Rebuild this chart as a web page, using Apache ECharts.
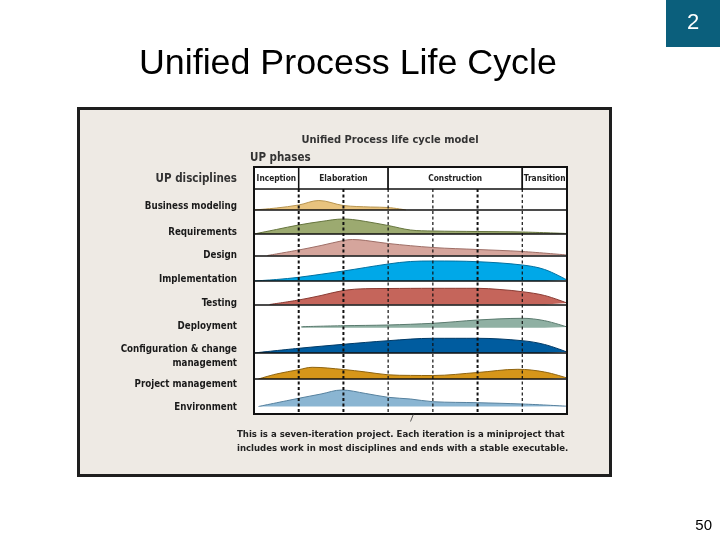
<!DOCTYPE html>
<html>
<head>
<meta charset="utf-8">
<script src="https://cdn.jsdelivr.net/npm/echarts@6/dist/echarts.min.js"></script>
<style>
  html, body { margin: 0; padding: 0; background: #fff; }
  #chart { width: 720px; height: 540px; }
</style>
</head>
<body>
<div id="chart"></div>
<script>
// phases across the 7 iterations
var phases = ['Inception', 'Elaboration', 'Construction', 'Transition'];
var phaseStart = [0, 1, 3, 6];
var phaseEnd = [1, 3, 6, 7];
var iterationEnds = [1, 2, 3, 4, 5, 6];
var heavyEnds = [1, 2, 5];

var disciplines = ['Business modeling', 'Requirements', 'Design', 'Implementation', 'Testing',
  'Deployment', 'Configuration & change\nmanagement', 'Project management', 'Environment'];

// effort curves: [iteration, effort]
var businessModeling = [[0, 0], [0.5, 2], [1, 5], [1.45, 9.5], [2, 4.5], [2.6, 3], [3, 2.5], [3.4, 0]];
var requirements = [[0, 0], [0.5, 4.5], [1, 9], [1.5, 12.5], [2, 15], [2.2, 14.5], [2.5, 12.5], [3, 8.5], [3.5, 4], [4, 3], [5, 2.5], [6, 2], [7, 0.5]];
var design = [[0.3, 0], [1, 5.5], [1.5, 10], [2, 15], [2.2, 16], [2.5, 15], [3, 12], [4, 8], [5, 6], [6, 4], [7, 0.5]];
var implementation = [[0, 0], [0.5, 1.5], [1, 3.7], [2, 10], [3, 17], [3.5, 19.5], [4, 20], [5, 19.3], [6, 16], [6.5, 11.5], [7, 1]];
var testing = [[0.35, 0], [1, 4.5], [1.5, 9], [2, 14], [2.5, 15.8], [3, 16], [4, 16.2], [5, 16.2], [5.5, 15], [6, 12.8], [6.5, 9], [7, 1.5]];
var deployment = [[1.06, 1], [2, 2], [3, 2.7], [4, 4.4], [4.5, 6], [5, 7.7], [6, 9.4], [6.5, 7], [7, 0.7]];
var configuration = [[0, 0], [1, 4.7], [2, 8.7], [3, 12.3], [4, 14.7], [5, 14.7], [6, 12.3], [6.5, 8.5], [7, 1]];
var projectManagement = [[0.1, 0], [0.5, 5], [1, 9.3], [1.3, 11.7], [2, 9.5], [2.5, 7], [3, 4.2], [3.5, 3.6], [4, 3.5], [5, 6.5], [5.9, 9.7], [6.5, 7], [7, 1]];
var environment = [[0.1, 0], [1, 8.2], [1.5, 12.5], [1.96, 16.5], [2.5, 13], [3, 9.2], [3.5, 7.5], [4, 4.8], [5, 3.8], [6, 2.5], [7, 0.3]];

var curves = [businessModeling, requirements, design, implementation, testing,
  deployment, configuration, projectManagement, environment];

// styles / layout
var fills = ['#E8C37E', '#9CAA70', '#D5A59C', '#00A8E8', '#C5655B', '#8FB0A3', '#005C9F', '#D6961A', '#8AB5D2'];
var edges = ['#B89550', '#66753E', '#9E6E66', '#0070A0', '#8A3B33', '#5A7A6E', '#003A66', '#8F6410', '#56819E'];
var bandTops = [189, 210, 234, 255.5, 281, 304.5, 327.7, 353, 379, 406.5];
var bandLine = [true, true, true, true, true, false, true, true, false];
var labelY = [206.7, 232.3, 255, 279.3, 303.3, 326, 356, 384, 407.7];
var boxLeft = 254, boxWidth = 313, boxTop = 167, boxBottom = 414;
var cond = '"DejaVu Sans Condensed", "DejaVu Sans", sans-serif';

var chart = echarts.init(document.getElementById('chart'));

var grids = [], xAxes = [], yAxes = [], series = [];

// header grid (index 0)
grids.push({ left: boxLeft, width: boxWidth, top: boxTop, height: bandTops[0] - boxTop });
xAxes.push({ gridIndex: 0, type: 'value', min: 0, max: 7, show: false });
yAxes.push({ gridIndex: 0, type: 'value', min: 0, max: 1, show: false });
series.push({
  type: 'custom',
  xAxisIndex: 0, yAxisIndex: 0,
  silent: true,
  data: phases.map(function (p, i) { return [phaseStart[i], phaseEnd[i]]; }),
  renderItem: function (params, api) {
    var s = api.coord([api.value(0), 1]);
    var e = api.coord([api.value(1), 0]);
    return {
      type: 'group',
      children: [
        { type: 'rect', shape: { x: s[0], y: s[1], width: e[0] - s[0], height: e[1] - s[1] },
          style: { fill: '#fff', stroke: '#111', lineWidth: 1.5 } },
        { type: 'text', x: (s[0] + e[0]) / 2, y: (s[1] + e[1]) / 2 + 0.5,
          style: { text: phases[params.dataIndex], font: 'bold 8.3px ' + cond, fill: '#222',
            textAlign: 'center', textVerticalAlign: 'middle' } }
      ]
    };
  }
});

// discipline bands
for (var i = 0; i < curves.length; i++) {
  var h = bandTops[i + 1] !== undefined ? bandTops[i + 1] - bandTops[i] : 27.5;
  grids.push({ left: boxLeft, width: boxWidth, top: bandTops[i], height: h });
  xAxes.push({
    gridIndex: i + 1, type: 'value', min: 0, max: 7, z: 5,
    axisLine: { show: bandLine[i], lineStyle: { color: '#111', width: 1.5 } },
    axisTick: { show: false }, axisLabel: { show: false }, splitLine: { show: false }
  });
  yAxes.push({ gridIndex: i + 1, type: 'value', min: 0, max: h, show: false });
  series.push({
    name: disciplines[i],
    type: 'line',
    xAxisIndex: i + 1, yAxisIndex: i + 1,
    data: curves[i],
    smooth: 0.35,
    symbol: 'none',
    silent: true,
    lineStyle: { color: edges[i], width: 1 },
    areaStyle: { color: fills[i], opacity: 1 }
  });
}

// iteration boundaries overlay
var ov = grids.length;
grids.push({ left: boxLeft, width: boxWidth, top: bandTops[0], height: boxBottom - bandTops[0] });
xAxes.push({ gridIndex: ov, type: 'value', min: 0, max: 7, show: false });
yAxes.push({ gridIndex: ov, type: 'value', min: 0, max: 1, show: false });
series.push({
  type: 'custom',
  xAxisIndex: ov, yAxisIndex: ov,
  silent: true,
  z: 10,
  data: iterationEnds.map(function (v) { return [v]; }),
  encode: { x: 0 },
  renderItem: function (params, api) {
    var x = api.value(0);
    var a = api.coord([x, 1]);
    var b = api.coord([x, 0]);
    var heavy = heavyEnds.indexOf(x) >= 0;
    return {
      type: 'line',
      shape: { x1: a[0], y1: a[1], x2: b[0], y2: b[1] },
      style: { stroke: '#111', lineWidth: heavy ? 2 : 1.2, lineDash: [3, 2.5] }
    };
  }
});

var graphics = [
  // outer picture frame
  { type: 'rect', z: -10, shape: { x: 78.5, y: 108.5, width: 532, height: 367 },
    style: { fill: '#EEEAE4', stroke: '#1E1E1E', lineWidth: 3 } },
  { type: 'rect', z: -9, shape: { x: boxLeft, y: boxTop, width: boxWidth, height: boxBottom - boxTop },
    style: { fill: '#fff' } },
  // box outline
  { type: 'rect', z: 100, shape: { x: boxLeft, y: boxTop, width: boxWidth, height: boxBottom - boxTop },
    style: { fill: null, stroke: '#111', lineWidth: 2 } },
  // slide title
  { type: 'text', z: 100, x: 139, y: 64,
    style: { text: 'Unified Process Life Cycle', font: '35.8px "Liberation Sans", Arial, sans-serif',
      fill: '#000', textVerticalAlign: 'middle' } },
  { type: 'rect', z: 100, shape: { x: 666, y: 0, width: 54, height: 47 }, style: { fill: '#0B5F7C' } },
  { type: 'text', z: 101, x: 693, y: 23,
    style: { text: '2', font: '22px "Liberation Sans", Arial, sans-serif', fill: '#fff',
      textAlign: 'center', textVerticalAlign: 'middle' } },
  { type: 'text', z: 100, x: 712, y: 526,
    style: { text: '50', font: '15px "Liberation Sans", Arial, sans-serif', fill: '#000',
      textAlign: 'right', textVerticalAlign: 'middle' } },
  // diagram headings
  { type: 'text', z: 100, x: 390, y: 140,
    style: { text: 'Unified Process life cycle model', font: 'bold 11px ' + cond, fill: '#333',
      textAlign: 'center', textVerticalAlign: 'middle' } },
  { type: 'text', z: 100, x: 250, y: 158,
    style: { text: 'UP phases', font: 'bold 11.5px ' + cond, fill: '#333', textVerticalAlign: 'middle' } },
  { type: 'text', z: 100, x: 237, y: 179,
    style: { text: 'UP disciplines', font: 'bold 11.5px ' + cond, fill: '#333',
      textAlign: 'right', textVerticalAlign: 'middle' } },
  // footnote
  { type: 'line', z: 100, shape: { x1: 410.5, y1: 421.5, x2: 413.5, y2: 414 },
    style: { stroke: '#333', lineWidth: 0.8 } },
  { type: 'text', z: 100, x: 237, y: 434.5,
    style: { text: 'This is a seven-iteration project. Each iteration is a miniproject that',
      font: 'bold 9.5px ' + cond, fill: '#222', textVerticalAlign: 'middle' } },
  { type: 'text', z: 100, x: 237, y: 448.5,
    style: { text: 'includes work in most disciplines and ends with a stable executable.',
      font: 'bold 9.5px ' + cond, fill: '#222', textVerticalAlign: 'middle' } }
];

disciplines.forEach(function (name, i) {
  graphics.push({
    type: 'text', z: 100, x: 237, y: labelY[i],
    style: { text: name, font: 'bold 9.7px ' + cond, fill: '#1A1A1A', lineHeight: 14,
      textAlign: 'right', textVerticalAlign: 'middle' }
  });
});

chart.setOption({
  backgroundColor: '#fff',
  animation: false,
  grid: grids,
  xAxis: xAxes,
  yAxis: yAxes,
  series: series,
  graphic: { elements: graphics }
});
</script>
</body>
</html>
